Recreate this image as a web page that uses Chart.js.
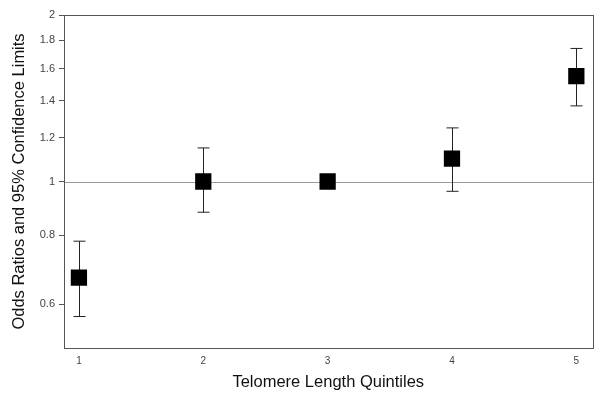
<!DOCTYPE html>
<html>
<head>
<meta charset="utf-8">
<script src="https://cdn.jsdelivr.net/npm/chart.js@4"></script>
<style>
  html, body { margin: 0; padding: 0; background: #fff; }
  #wrap { width: 604px; height: 403px; }
</style>
</head>
<body>
<div id="wrap"><canvas id="myPlot"></canvas></div>
<script>
const quintiles = [1, 2, 3, 4, 5];
const oddsRatios = [0.67, 1.0, 1.0, 1.10, 1.55];
const lowerCL = [0.57, 0.88, 1.0, 0.96, 1.37];
const upperCL = [0.78, 1.15, 1.0, 1.25, 1.74];
const yTicks = [0.6, 0.8, 1, 1.2, 1.4, 1.6, 1.8, 2];

const points = quintiles.map((q, i) => ({x: q, y: oddsRatios[i]}));

// frame, reference line and error bars
const extras = {
  id: "extras",
  beforeDatasetsDraw(chart) {
    const ctx = chart.ctx;
    const a = chart.chartArea;
    const xs = chart.scales.x;
    const ys = chart.scales.y;
    ctx.save();
    // line at OR = 1
    ctx.strokeStyle = "#999";
    ctx.lineWidth = 1;
    const y1 = Math.round(ys.getPixelForValue(1)) + 0.5;
    ctx.beginPath();
    ctx.moveTo(a.left, y1);
    ctx.lineTo(a.right, y1);
    ctx.stroke();
    // whiskers
    ctx.strokeStyle = "#222";
    for (let i = 0; i < quintiles.length; i++) {
      if (lowerCL[i] === upperCL[i]) continue;
      const x = Math.round(xs.getPixelForValue(quintiles[i])) + 0.5;
      const lo = ys.getPixelForValue(lowerCL[i]);
      const hi = ys.getPixelForValue(upperCL[i]);
      ctx.beginPath();
      ctx.moveTo(x, lo);
      ctx.lineTo(x, hi);
      ctx.moveTo(x - 6, lo);
      ctx.lineTo(x + 6, lo);
      ctx.moveTo(x - 6, hi);
      ctx.lineTo(x + 6, hi);
      ctx.stroke();
    }
    // plot frame
    ctx.strokeStyle = "#555";
    ctx.strokeRect(Math.round(a.left) + 0.5, Math.round(a.top) + 0.5,
      Math.round(a.right - a.left), Math.round(a.bottom - a.top));
    ctx.restore();
  }
};

new Chart("myPlot", {
  type: "scatter",
  data: {
    datasets: [{
      data: points,
      pointStyle: "rect",
      pointRadius: 11.5,
      pointHoverRadius: 11.5,
      backgroundColor: "#000",
      borderColor: "#000",
      borderWidth: 0
    }]
  },
  plugins: [extras],
  options: {
    responsive: true,
    maintainAspectRatio: false,
    animation: false,
    layout: {padding: {top: 15, right: 11, left: 6, bottom: 7}},
    plugins: {
      legend: {display: false},
      tooltip: {enabled: false}
    },
    scales: {
      x: {
        type: "linear",
        min: 0.88,
        max: 5.13,
        afterBuildTicks: (s) => { s.ticks = quintiles.map(v => ({value: v})); },
        afterFit: (s) => { s.height = 48; },
        grid: {display: false, drawTicks: false},
        border: {display: false},
        ticks: {
          color: "#444",
          font: {family: "Liberation Sans", size: 10},
          padding: 7,
          callback: (v) => String(v)
        },
        title: {
          display: true,
          text: "Telomere Length Quintiles",
          color: "#111",
          font: {family: "Liberation Sans", size: 16.5},
          padding: {top: 4}
        }
      },
      y: {
        type: "logarithmic",
        min: 0.5,
        max: 2,
        afterBuildTicks: (s) => { s.ticks = yTicks.map(v => ({value: v})); },
        afterFit: (s) => { s.width = 58; },
        grid: {
          display: true,
          drawOnChartArea: false,
          tickLength: 5,
          color: "#555"
        },
        border: {display: false},
        ticks: {
          color: "#444",
          font: {family: "Liberation Sans", size: 11},
          padding: 4,
          callback: (v) => String(v)
        },
        title: {
          display: true,
          text: "Odds Ratios and 95% Confidence Limits",
          color: "#111",
          font: {family: "Liberation Sans", size: 16.5},
          padding: {bottom: 4}
        }
      }
    }
  }
});
</script>
</body>
</html>
